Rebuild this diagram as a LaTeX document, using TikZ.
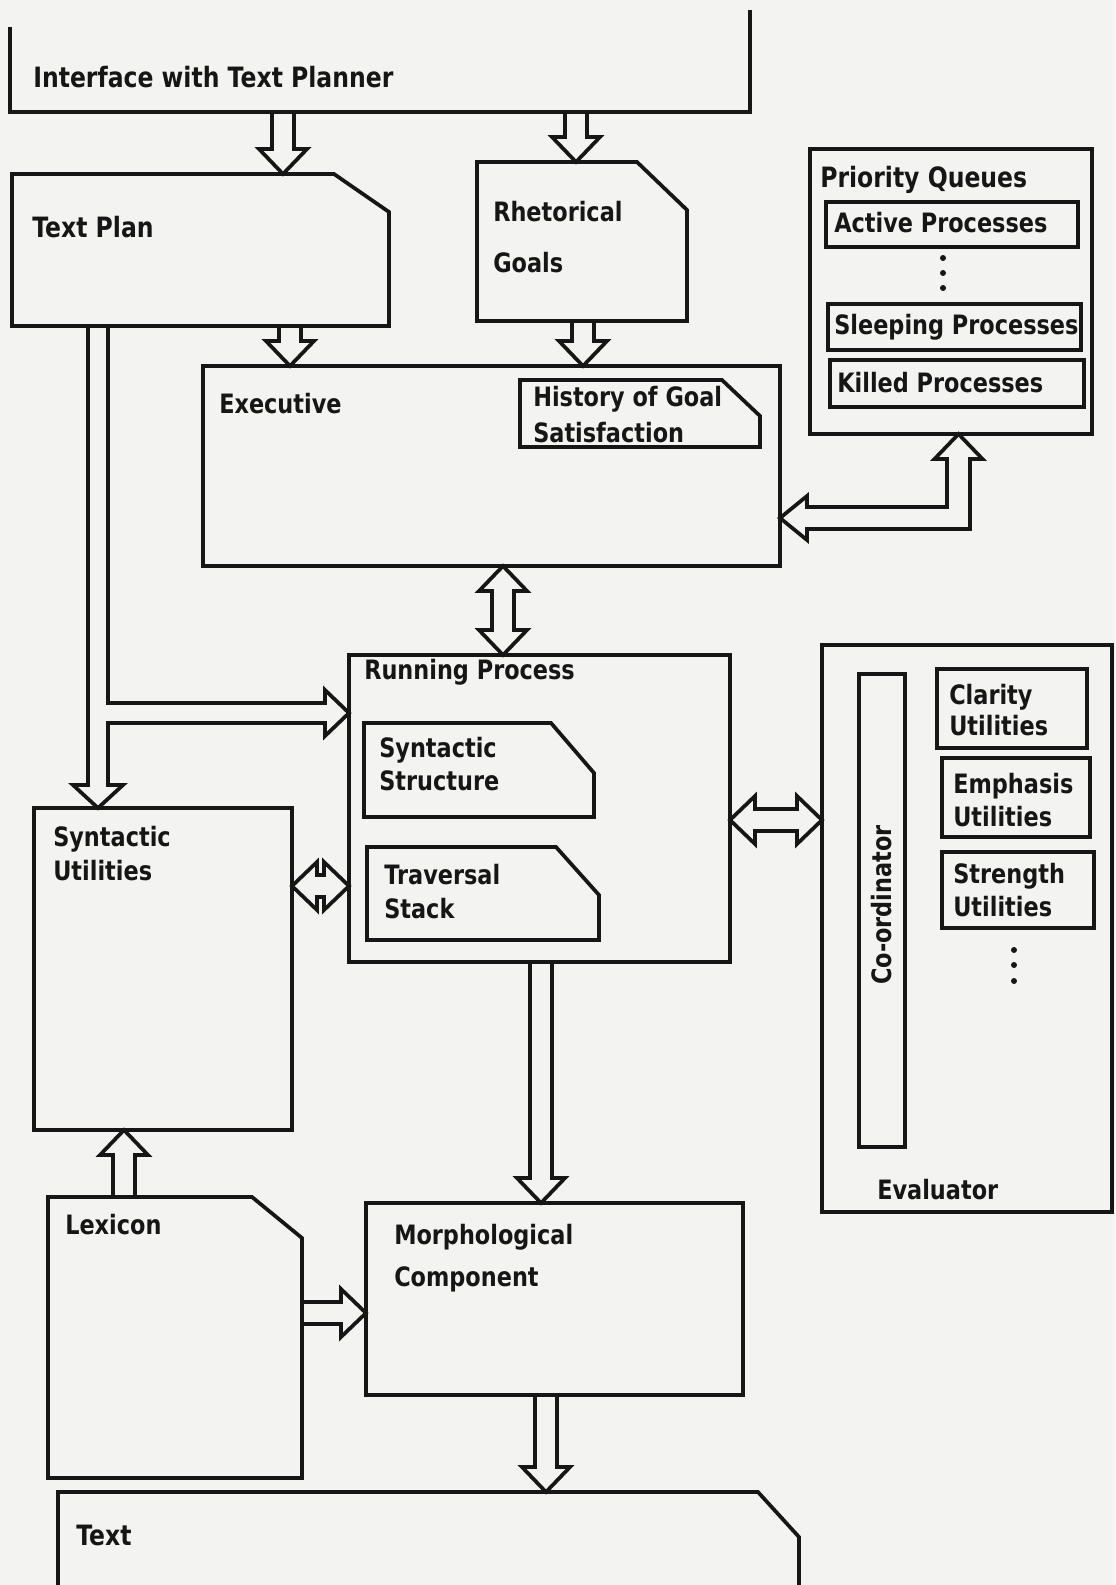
\documentclass[tikz,border=0pt]{standalone}
\usepackage{fontspec}
\newfontfamily\chic{DejaVu Sans}[FakeStretch=0.84]
\usetikzlibrary{calc,fit}
\definecolor{bgc}{RGB}{243,243,241}
\definecolor{ink}{RGB}{22,22,22}
\def\ahl{18.75pt}
\def\ahw{18pt}
\def\asw{8.25pt}
\newcommand\blockarrow[2]{%
  \coordinate (ba-s) at (#1);
  \coordinate (ba-e) at (#2);
  \coordinate (ba-b) at ($(ba-e)!\ahl!(ba-s)$);
  \draw[arr] ($(ba-s)!\asw!90:(ba-e)$) -- ($(ba-b)!\asw!90:(ba-e)$) -- ($(ba-b)!\ahw!90:(ba-e)$) -- (ba-e) -- ($(ba-b)!\ahw!-90:(ba-e)$) -- ($(ba-b)!\asw!-90:(ba-e)$) -- ($(ba-s)!\asw!-90:(ba-e)$);
}
\newcommand\dblarrow[2]{%
  \coordinate (da-s) at (#1);
  \coordinate (da-e) at (#2);
  \coordinate (da-b) at ($(da-s)!\ahl!(da-e)$);
  \coordinate (da-c) at ($(da-e)!\ahl!(da-s)$);
  \draw[arr] (da-s) -- ($(da-b)!\ahw!90:(da-e)$) -- ($(da-b)!\asw!90:(da-e)$) -- ($(da-c)!\asw!90:(da-e)$) -- ($(da-c)!\ahw!90:(da-e)$) -- (da-e) -- ($(da-c)!\ahw!-90:(da-e)$) -- ($(da-c)!\asw!-90:(da-e)$) -- ($(da-b)!\asw!-90:(da-e)$) -- ($(da-b)!\ahw!-90:(da-e)$) -- cycle;
}
\newcommand\dogear[3]{%
  \draw[outl] (#1.north west) -- ([shift={(-#2,0)}]#1.north east) -- ([shift={(0,#3)}]#1.north east) -- (#1.south east) -- (#1.south west) -- cycle;
}
\begin{document}
\begin{tikzpicture}[x=0.75pt,y=-0.75pt,
  lw/.style={line width=2.8pt, draw=ink, line join=miter},
  box/.style={lw, inner sep=0pt, outer sep=0pt},
  zone/.style={draw=none, inner sep=0pt, outer sep=0pt},
  outl/.style={lw},
  arr/.style={lw},
  lbl/.style={font=\chic\bfseries\fontsize{20}{#1}\selectfont, text=ink, inner sep=0pt, align=left, anchor=west},
  lbl/.default=25.5,
  big/.style={font=\chic\bfseries\fontsize{21}{25}\selectfont},
  dotc/.style={fill=ink, draw=none, circle, inner sep=0pt, minimum size=4.5pt}]
\fill[bgc] (0,0) rectangle (1115,1585);
\useasboundingbox (0,0) rectangle (1115,1585);

% ---- boxes
\node[zone, fit={(10,10)(750,112)}] (iface) {};
\draw[outl] ([shift={(0,17)}]iface.north west) -- (iface.south west) -- (iface.south east) -- (iface.north east);
\node[lbl, big] (t-iface) at (33,77) {Interface with Text Planner};

\node[zone, fit={(12,174)(389,326)}] (tp) {};
\dogear{tp}{55}{38}
\node[lbl, big] (t-tp) at (32,227) {Text Plan};

\node[zone, fit={(477,162)(687,321)}] (rg) {};
\dogear{rg}{50}{48}
\node[lbl=38] (t-rg) at (493,237) {Rhetorical\\Goals};

\node[box, fit={(203,366)(780,566)}] (exec) {};
\node[lbl] (t-exec) at (219,404) {Executive};

\node[zone, fit={(520,380)(760,447)}] (hist) {};
\dogear{hist}{38}{36}
\node[lbl=27] (t-hist) at (533,415) {History of Goal\\Satisfaction};

\node[box, fit={(810,149)(1092,434)}] (pq) {};
\node[lbl, big] (t-pq) at (820,180) {Priority Queues};
\node[box, fit={(826,202)(1078,247)}] (act) {};
\node[lbl] (t-act) at (834,223) {Active Processes};
\node[dotc] (pd1) at (943,258) {};
\node[dotc] (pd2) at (943,273) {};
\node[dotc] (pd3) at (943,288) {};
\node[box, fit={(828,304)(1081,350)}] (slp) {};
\node[lbl] (t-slp) at (834,327) {Sleeping Processes};
\node[box, fit={(830,360)(1084,407)}] (kil) {};
\node[lbl] (t-kil) at (837,383) {Killed Processes};

\node[box, fit={(349,655)(730,962)}] (rp) {};
\node[lbl] (t-rp) at (364,672) {Running Process};
\node[zone, fit={(364,723)(594,817)}] (ss) {};
\dogear{ss}{43}{50}
\node[lbl=25] (t-ss) at (379,764) {Syntactic\\Structure};
\node[zone, fit={(367,847)(599,940)}] (ts) {};
\dogear{ts}{43}{48}
\node[lbl] (t-ts) at (384,892) {Traversal\\Stack};

\node[box, fit={(34,808)(292,1130)}] (su) {};
\node[lbl] (t-su) at (53,854) {Syntactic\\Utilities};

\node[box, fit={(822,645)(1112,1212)}] (ev) {};
\node[lbl] (t-ev) at (877,1190) {Evaluator};
\node[box, fit={(859,674)(905,1147)}] (co) {};
\node[lbl, anchor=center, rotate=90] (t-co) at (882,905) {Co-ordinator};
\node[box, fit={(937,669)(1087,748)}] (cl) {};
\node[lbl=23.5] (t-cl) at (949,710) {Clarity\\Utilities};
\node[box, fit={(942,758)(1090,837)}] (em) {};
\node[lbl=25] (t-em) at (953,800) {Emphasis\\Utilities};
\node[box, fit={(942,852)(1094,928)}] (st) {};
\node[lbl=25] (t-st) at (953,890) {Strength\\Utilities};
\node[dotc] (ed1) at (1014,950) {};
\node[dotc] (ed2) at (1014,965) {};
\node[dotc] (ed3) at (1014,981) {};

\node[box, fit={(366,1203)(743,1395)}] (mc) {};
\node[lbl=31] (t-mc) at (394,1258) {Morphological\\Component};

\node[zone, fit={(48,1197)(302,1478)}] (lx) {};
\dogear{lx}{50}{41}
\node[lbl] (t-lx) at (65,1225) {Lexicon};

\node[zone, fit={(58,1492)(799,1600)}] (txt) {};
\draw[outl] (txt.south west) -- (txt.north west) -- ([shift={(-41,0)}]txt.north east) -- ([shift={(0,45)}]txt.north east) -- (txt.south east);
\node[lbl, big] (t-txt) at (76,1535) {Text};

% ---- guide coordinates
\coordinate (c283) at (283,0);
\coordinate (c576) at (576,0);
\coordinate (c290) at (290,0);
\coordinate (c583) at (583,0);
\coordinate (c503) at (503,0);
\coordinate (c541) at (541,0);
\coordinate (c124) at (124,0);
\coordinate (c546) at (546,0);
\coordinate (r886) at (0,886);
\coordinate (r820) at (0,820);
\coordinate (r1313) at (0,1313);

% ---- block arrows
\blockarrow{iface.south -| c283}{tp.north -| c283}
\blockarrow{iface.south -| c576}{rg.north -| c576}
\blockarrow{tp.south -| c290}{exec.north -| c290}
\blockarrow{rg.south -| c583}{exec.north -| c583}
\dblarrow{exec.south -| c503}{rp.north -| c503}
\dblarrow{su.east |- r886}{rp.west |- r886}
\dblarrow{rp.east |- r820}{ev.west |- r820}
\blockarrow{rp.south -| c541}{mc.north -| c541}
\blockarrow{lx.north -| c124}{su.south -| c124}
\blockarrow{lx.east |- r1313}{mc.west |- r1313}
\blockarrow{mc.south -| c546}{txt.north -| c546}

% ---- L-shaped double arrow: Executive <-> Priority Queues
\coordinate (lrow) at (0,518);
\coordinate (lcol) at (958.5,0);
\coordinate (tipL) at (exec.east |- lrow);
\coordinate (tipU) at (pq.south -| lcol);
\draw[arr] (tipL) -- ++(27,-22) -- ++(0,11) -| ($(tipU)+(-11.5,25)$) -- ++(-12.5,0) -- (tipU) -- ++(24,25) -- ++(-12.5,0) |- ($(tipL)+(27,11)$) -- ++(0,11) -- cycle;

% ---- T-shaped arrow: Text Plan -> Syntactic Utilities and Running Process
\coordinate (tcol) at (98,0);
\coordinate (trow) at (0,713);
\coordinate (tipD) at (su.north -| tcol);
\coordinate (tipR) at (rp.west |- trow);
\draw[arr] ($(tp.south -| tcol)+(-10,0)$) -- ($(tipD)+(-10,-23)$) -- ++(-15,0) -- (tipD) -- ++(25,-23) -- ++(-15,0) |- ($(tipR)+(-24,10)$) -- ++(0,13) -- (tipR) -- ++(-24,-23) -- ++(0,13) -| ($(tp.south -| tcol)+(10,0)$);
\end{tikzpicture}
\end{document}
